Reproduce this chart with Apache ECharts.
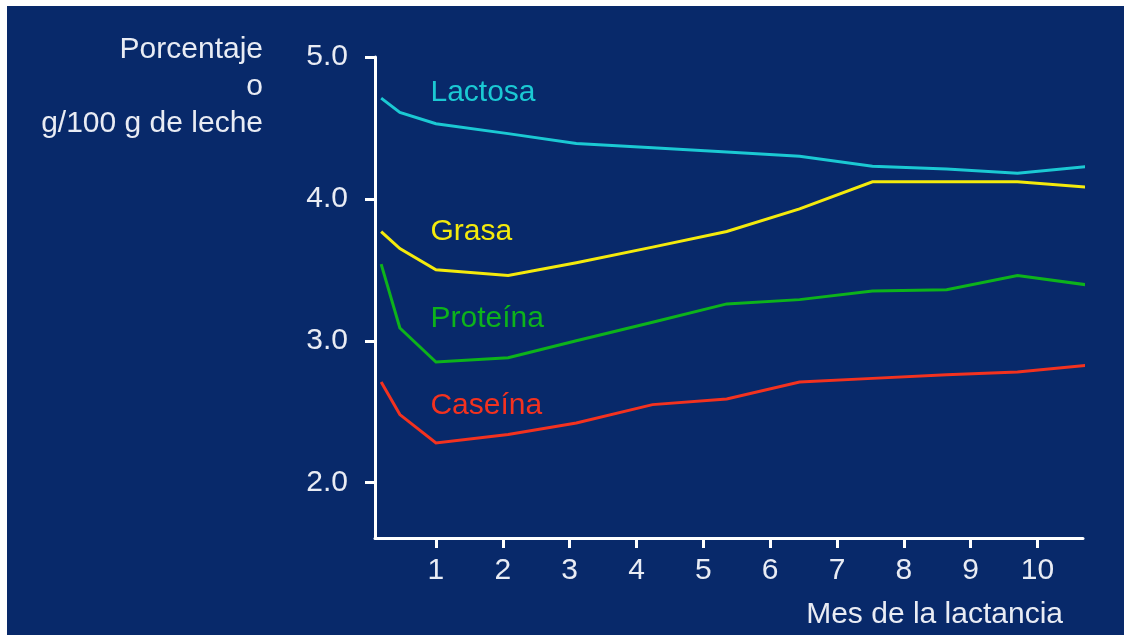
<!DOCTYPE html>
<html>
<head>
<meta charset="utf-8">
<script src="https://cdn.jsdelivr.net/npm/echarts@6/dist/echarts.min.js"></script>
<style>
  html, body { margin: 0; padding: 0; background: #ffffff; width: 1124px; height: 635px; overflow: hidden; }
  #chart { position: absolute; left: 7px; top: 6px; width: 1117px; height: 629px; }
</style>
</head>
<body>
<div id="chart"></div>
<script>
// Month positions of the drawn vertices (Mes de la lactancia)
const months = [0.18, 0.46, 1.0, 2.08, 3.1, 4.24, 5.35, 6.44, 7.53, 8.64, 9.7, 10.8];
// Series values (porcentaje o g/100 g de leche)
const lactosa  = [4.71, 4.61, 4.53, 4.46, 4.39, 4.36, 4.33, 4.30, 4.23, 4.21, 4.18, 4.23];
const grasa    = [3.77, 3.65, 3.50, 3.46, 3.55, 3.66, 3.77, 3.93, 4.12, 4.12, 4.12, 4.08];
const proteina = [3.54, 3.09, 2.85, 2.88, 3.00, 3.13, 3.26, 3.29, 3.35, 3.36, 3.46, 3.39];
const caseina  = [2.71, 2.48, 2.28, 2.34, 2.42, 2.55, 2.59, 2.71, 2.735, 2.76, 2.78, 2.83];
// Tick labels
const xTicks = [1, 2, 3, 4, 5, 6, 7, 8, 9, 10];
const yTicks = [2, 3, 4, 5];
const seriesNames = ['Lactosa', 'Grasa', 'Proteína', 'Caseína'];
const yAxisTitle = 'Porcentaje\no\ng/100 g de leche';
const xAxisTitle = 'Mes de la lactancia';

const FONT = "'Liberation Sans', Arial, Helvetica, sans-serif";
const TXT = '#e9ecf4';
const colors = ['#1bc9d3', '#f4ea0c', '#0db31b', '#f3321f'];
const labelPos = [[0.91, 4.75], [0.91, 3.772], [0.91, 3.153], [0.91, 2.544]];
const values = [lactosa, grasa, proteina, caseina];

const chart = echarts.init(document.getElementById('chart'), null, { renderer: 'canvas' });

const series = seriesNames.map((name, i) => ({
  name: name,
  type: 'line',
  data: months.map((m, k) => [m, values[i][k]]),
  showSymbol: false,
  symbol: 'none',
  clip: false,
  lineStyle: { color: colors[i], width: 3, join: 'miter' },
  markPoint: {
    symbol: 'circle',
    symbolSize: 1,
    itemStyle: { color: 'transparent' },
    label: {
      show: true,
      position: 'right',
      distance: 0,
      formatter: name,
      color: colors[i],
      fontSize: 30,
      fontFamily: FONT
    },
    data: [{ coord: labelPos[i] }]
  }
}));

chart.setOption({
  animation: false,
  backgroundColor: '#08296a',
  grid: { left: 368, right: 41, top: 51, bottom: 97, containLabel: false, outerBoundsMode: 'none' },
  xAxis: {
    type: 'value',
    min: 0.088,
    max: 10.68,
    splitLine: { show: false },
    axisLine: { show: true, lineStyle: { color: '#ffffff', width: 3 } },
    axisTick: { show: true, length: 10, lineStyle: { color: '#ffffff', width: 3 }, customValues: xTicks },
    axisLabel: { color: TXT, fontSize: 30, fontFamily: FONT, margin: 18, customValues: xTicks }
  },
  yAxis: {
    type: 'value',
    min: 1.61,
    max: 5.0,
    splitLine: { show: false },
    axisLine: { show: true, lineStyle: { color: '#ffffff', width: 3 } },
    axisTick: { show: true, length: 10, lineStyle: { color: '#ffffff', width: 3 }, customValues: yTicks },
    axisLabel: { color: TXT, fontSize: 30, fontFamily: FONT, margin: 27, customValues: yTicks,
      formatter: v => v.toFixed(1) }
  },
  graphic: [
    {
      type: 'text', left: null, x: 256, y: 25,
      style: { text: yAxisTitle, fill: TXT, font: '30px ' + FONT, lineHeight: 37, align: 'right', verticalAlign: 'top' }
    },
    {
      type: 'text', x: 1056, y: 594,
      style: { text: xAxisTitle, fill: TXT, font: '30px ' + FONT, lineHeight: 30, align: 'right', verticalAlign: 'top' }
    }
  ],
  series: series
});
</script>
</body>
</html>
